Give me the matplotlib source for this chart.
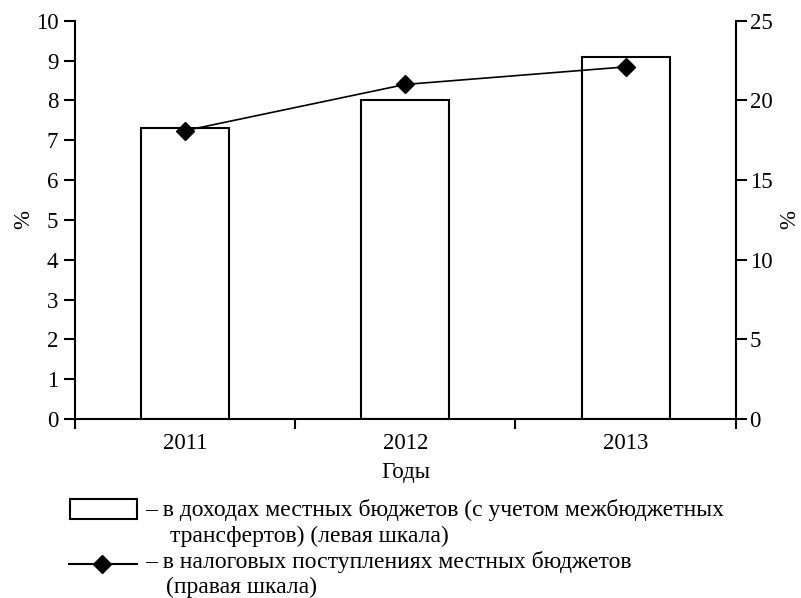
import matplotlib
matplotlib.use('Agg')
import matplotlib.pyplot as plt
from matplotlib.patches import Rectangle
from matplotlib.lines import Line2D
import numpy as np

plt.rcParams['font.family'] = ['Liberation Serif', 'DejaVu Serif']
plt.rcParams['font.size'] = 16.5

# данные
years = ['2011', '2012', '2013']
share_income = [7.3, 8.0, 9.1]      # левая шкала
share_tax = [18.1, 21.0, 22.1]      # правая шкала

legend_bar = ['– в доходах местных бюджетов (с учетом межбюджетных',
              'трансфертов) (левая шкала)']
legend_line = ['– в налоговых поступлениях местных бюджетов',
               '(правая шкала)']

W, H = 801, 598
fig = plt.figure(figsize=(W / 100, H / 100), dpi=100)
ax = fig.add_axes([75 / W, (H - 419) / H, 660.7 / W, 398.3 / H])

x = np.arange(len(years))
ax.bar(x, share_income, width=0.4, facecolor='white', edgecolor='black', linewidth=1.5, zorder=2)
ax.set_xlim(-0.5, 2.5)
ax.set_ylim(0, 10)
ax.set_yticks(range(0, 11))
ax.set_ylabel('%', labelpad=1)

# подписи лет по центрам, штрихи по границам
ax.set_xticks(np.arange(-0.5, 3, 1.0))
ax.set_xticklabels([])
ax.set_xticks(x, minor=True)
ax.set_xticklabels(years, minor=True)
ax.tick_params(axis='x', which='major', direction='out', length=7.5, width=1.5)
ax.tick_params(axis='x', which='minor', length=0, pad=10)
ax.tick_params(axis='y', direction='out', length=8, width=1.5, pad=4)
ax.set_xlabel('Годы', labelpad=6)

for side in ['top', 'right']:
    ax.spines[side].set_visible(False)
for side in ['left', 'bottom']:
    ax.spines[side].set_linewidth(1.5)

ax2 = ax.twinx()
ax2.plot(x, share_tax, color='black', linewidth=1.2, marker='D', markersize=9, zorder=3)
ax2.set_ylim(0, 25)
ax2.set_yticks(range(0, 26, 5))
ax2.set_ylabel('%', labelpad=5)
ax2.tick_params(axis='y', direction='out', length=8, width=1.5, pad=2)
for side in ['top', 'left', 'bottom']:
    ax2.spines[side].set_visible(False)
ax2.spines['right'].set_linewidth(1.5)

# легенда под графиком
fig.patches.append(Rectangle((70 / W, 1 - 519 / H), 67 / W, 20 / H, transform=fig.transFigure,
                             facecolor='white', edgecolor='black', linewidth=1.5))
fig.lines.append(Line2D([69 / W, 137 / W], [1 - 564 / H, 1 - 564 / H], transform=fig.transFigure,
                        color='black', linewidth=1.5))
fig.lines.append(Line2D([102 / W], [1 - 564 / H], transform=fig.transFigure,
                        color='black', marker='D', markersize=9, linestyle='none'))
fs_leg = 17
fig.text(145 / W, 1 - 516 / H, legend_bar[0], va='baseline', ha='left', fontsize=fs_leg)
fig.text(170 / W, 1 - 542 / H, legend_bar[1], va='baseline', ha='left', fontsize=fs_leg)
fig.text(145 / W, 1 - 568 / H, legend_line[0], va='baseline', ha='left', fontsize=fs_leg)
fig.text(166 / W, 1 - 593 / H, legend_line[1], va='baseline', ha='left', fontsize=fs_leg)

fig.savefig('out.png', dpi=100)
